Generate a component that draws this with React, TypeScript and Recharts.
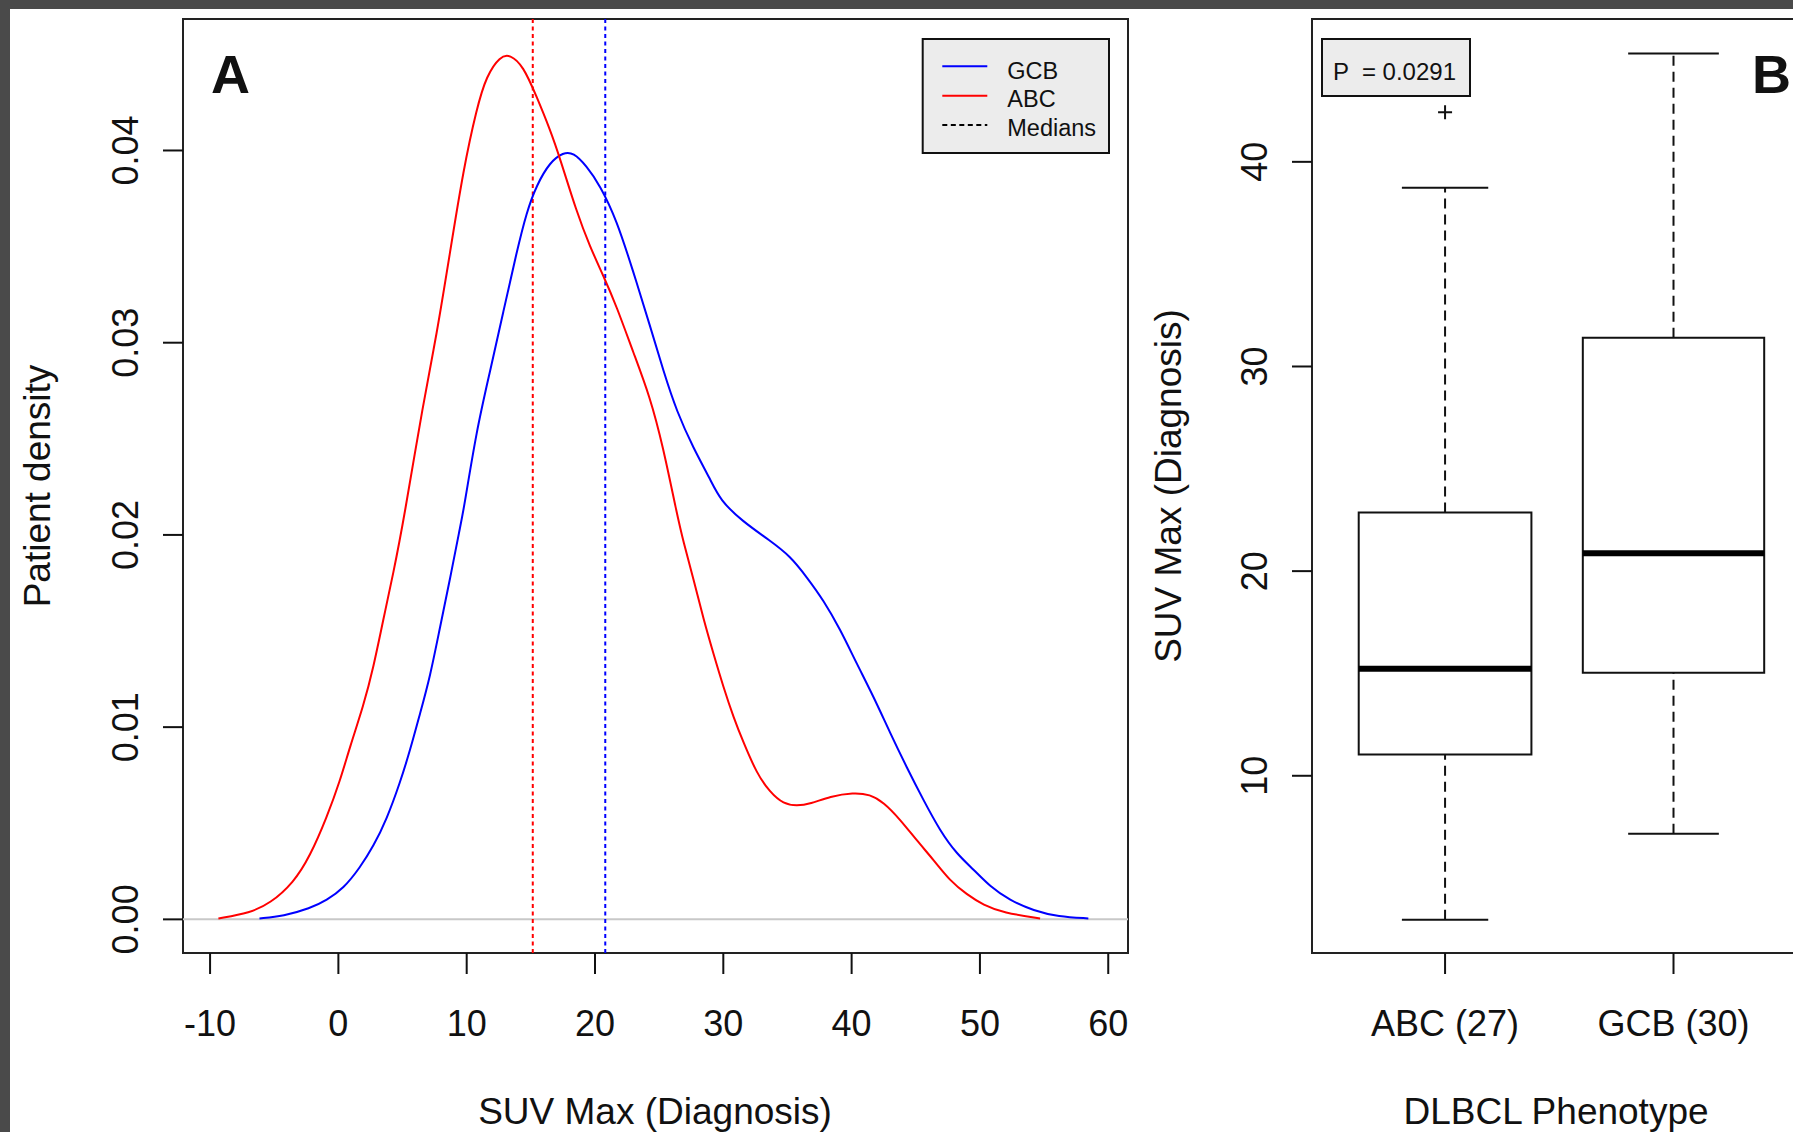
import React from 'react';
import {
  ComposedChart,
  Line,
  ReferenceArea,
  ReferenceLine,
  Scatter,
  XAxis,
  YAxis,
} from 'recharts';

const FONT = "'Liberation Sans', Arial, Helvetica, sans-serif";
const INK = '#111';
const RED = '#ff0000';
const BLUE = '#0000ff';

// Panel A: density of SUV max at diagnosis
const abcX = [
  -9.35, -6.88, -5.32, -3.5, -2.2, -0.91, 0.13, 0.91, 1.95, 2.73, 3.5, 4.28, 5.1, 6.62, 7.66, 8.7,
  9.74, 10.78, 11.55, 12.6, 13.37, 14.41, 15.45, 16.49, 17.27, 18.57, 19.6, 20.64, 21.68, 22.98,
  24.28, 25.3, 26.35, 26.9, 27.68, 28.46, 29.24, 30.0, 30.8, 31.57, 32.6, 33.65, 34.69, 35.73,
  36.77, 38.33, 40.14, 41.44, 42.48, 43.78, 45.08, 46.38, 47.67, 48.97, 50.27, 51.83, 54.69,
];
const abcY = [
  0.00005, 0.00034, 0.00083, 0.0019, 0.0033, 0.0053, 0.0072, 0.009, 0.0111, 0.0131, 0.0156, 0.018,
  0.0208, 0.0269, 0.0304, 0.0347, 0.039, 0.0422, 0.0439, 0.0449, 0.045, 0.0444, 0.0428, 0.0411,
  0.0396, 0.0368, 0.035, 0.0335, 0.0319, 0.0295, 0.0272, 0.0246, 0.0212, 0.0196, 0.0177, 0.0156,
  0.0138, 0.0121, 0.0105, 0.0092, 0.0076, 0.0066, 0.006, 0.0059, 0.006, 0.0064, 0.0066, 0.0065,
  0.0061, 0.0052, 0.0041, 0.0031, 0.002, 0.0013, 0.00074, 0.00034, 0.00005,
];
const gcbX = [
  -6.15, -4.28, -2.2, -0.91, 0.39, 1.69, 2.73, 3.76, 4.8, 5.59, 6.36, 7.14, 7.92, 8.7, 9.48, 9.74,
  10.78, 11.82, 12.85, 13.89, 14.67, 15.45, 16.49, 17.53, 18.31, 19.34, 20.38, 21.68, 22.98, 24.28,
  25.34, 26.38, 27.68, 28.98, 29.76, 31.5, 33.65, 35.21, 36.51, 37.81, 39.1, 40.4, 41.7, 43.0, 44.3,
  45.6, 46.9, 48.2, 49.5, 50.8, 52.3, 54.2, 56.1, 58.45,
];
const gcbY = [
  0.00005, 0.00017, 0.00057, 0.001, 0.0016, 0.0027, 0.0038, 0.0052, 0.0071, 0.0088, 0.0107, 0.0126,
  0.0152, 0.0177, 0.0204, 0.0212, 0.0255, 0.0285, 0.0316, 0.0347, 0.0368, 0.0382, 0.0394, 0.0399,
  0.0399, 0.0392, 0.0382, 0.0364, 0.0337, 0.0309, 0.0285, 0.0264, 0.0245, 0.0229, 0.0218, 0.0207,
  0.0197, 0.0189, 0.0178, 0.0166, 0.0151, 0.0133, 0.0116, 0.0097, 0.0079, 0.0062, 0.0046, 0.0034,
  0.0026, 0.0017, 0.001, 0.00045, 0.00014, 0.00005,
];
const medianAbc = 15.15;
const medianGcb = 20.8;
const densityXTicks = [-10, 0, 10, 20, 30, 40, 50, 60];
const densityYTicks = [0, 0.01, 0.02, 0.03, 0.04];
const densityXDomain: [number, number] = [-12.11, 61.54];
const densityYDomain: [number, number] = [-0.00175, 0.04684];
const legendLabels = ['GCB', 'ABC', 'Medians'];
const legendColors = [BLUE, RED, '#000'];

// Panel B: boxplots per phenotype
const groups = ['ABC (27)', 'GCB (30)'];
const groupPos = [1, 2];
const boxWidth = [0.756, 0.794];
const whiskerLow = [2.97, 7.17];
const q1 = [11.04, 15.03];
const median = [15.23, 20.87];
const q3 = [22.86, 31.4];
const whiskerHigh = [38.73, 45.3];
const outlierGroup = [1];
const outlierValue = [42.42];
const boxYTicks = [10, 20, 30, 40];
const boxXDomain: [number, number] = [0.4175, 2.58];
const boxYDomain: [number, number] = [1.34, 46.98];
const pLabel = 'P  = 0.0291';

const abcRows = abcX.map((x, i) => ({ x, y: abcY[i] }));
const gcbRows = gcbX.map((x, i) => ({ x, y: gcbY[i] }));
const outlierRows = outlierGroup.map((g, i) => ({ x: g, y: outlierValue[i] }));

const tickLineStyle = { stroke: INK, strokeWidth: 2 };

function XTick({ x, y, payload, names }: any) {
  const v = payload?.value;
  const text = names ? names[groupPos.indexOf(v)] : String(v);
  return (
    <text x={x} y={y + 62} textAnchor="middle" fontFamily={FONT} fontSize={36} fill={INK}>
      {text}
    </text>
  );
}

function YTick({ x, y, payload, digits }: any) {
  const v = payload?.value as number;
  const text = digits ? v.toFixed(digits) : String(v);
  return (
    <text
      x={x}
      y={y}
      transform={`rotate(-90 ${x} ${y})`}
      textAnchor="middle"
      fontFamily={FONT}
      fontSize={36}
      fill={INK}
    >
      {text}
    </text>
  );
}

function Cross({ cx, cy }: any) {
  if (cx == null || cy == null) return null;
  const h = 7;
  return (
    <path
      d={`M${cx - h},${cy}H${cx + h}M${cx},${cy - h}V${cy + h}`}
      stroke={INK}
      strokeWidth={2}
      fill="none"
    />
  );
}

function DensityPanel() {
  return (
    <ComposedChart width={1160} height={1132} margin={{ top: 19, right: 32, bottom: 79, left: 83 }}>
      <XAxis
        type="number"
        dataKey="x"
        domain={densityXDomain}
        ticks={densityXTicks}
        allowDataOverflow
        interval={0}
        axisLine={false}
        tickLine={tickLineStyle}
        tickSize={21}
        tickMargin={0}
        height={100}
        tick={<XTick />}
      />
      <YAxis
        type="number"
        domain={densityYDomain}
        ticks={densityYTicks}
        allowDataOverflow
        interval={0}
        axisLine={false}
        tickLine={tickLineStyle}
        tickSize={20}
        tickMargin={25}
        width={100}
        tick={<YTick digits={2} />}
      />
      <ReferenceLine y={0} stroke="#c8c8c8" strokeWidth={2} />
      <ReferenceLine x={medianAbc} stroke={RED} strokeWidth={2} strokeDasharray="4 3.5" />
      <ReferenceLine x={medianGcb} stroke={BLUE} strokeWidth={2} strokeDasharray="4 3.5" />
      <Line
        data={gcbRows}
        dataKey="y"
        type="basis"
        stroke={BLUE}
        strokeWidth={2}
        dot={false}
        activeDot={false}
        isAnimationActive={false}
      />
      <Line
        data={abcRows}
        dataKey="y"
        type="basis"
        stroke={RED}
        strokeWidth={2}
        dot={false}
        activeDot={false}
        isAnimationActive={false}
      />
      <ReferenceArea
        x1={densityXDomain[0]}
        x2={densityXDomain[1]}
        y1={densityYDomain[0]}
        y2={densityYDomain[1]}
        fill="none"
        stroke="#222"
        strokeWidth={2}
        ifOverflow="visible"
      />
    </ComposedChart>
  );
}

function BoxPanel() {
  return (
    <ComposedChart width={670} height={1132} margin={{ top: 19, right: 14, bottom: 79, left: 62 }}>
      <XAxis
        type="number"
        dataKey="x"
        domain={boxXDomain}
        ticks={groupPos}
        allowDataOverflow
        interval={0}
        axisLine={false}
        tickLine={tickLineStyle}
        tickSize={21}
        tickMargin={0}
        height={100}
        tick={<XTick names={groups} />}
      />
      <YAxis
        type="number"
        dataKey="y"
        domain={boxYDomain}
        ticks={boxYTicks}
        allowDataOverflow
        interval={0}
        axisLine={false}
        tickLine={tickLineStyle}
        tickSize={20}
        tickMargin={25}
        width={100}
        tick={<YTick />}
      />
      {groupPos.map((p, i) => (
        <ReferenceLine
          key={`wl${i}`}
          segment={[{ x: p, y: whiskerLow[i] }, { x: p, y: q1[i] }]}
          stroke={INK}
          strokeWidth={2}
          strokeDasharray="10 6"
        />
      ))}
      {groupPos.map((p, i) => (
        <ReferenceLine
          key={`wh${i}`}
          segment={[{ x: p, y: q3[i] }, { x: p, y: whiskerHigh[i] }]}
          stroke={INK}
          strokeWidth={2}
          strokeDasharray="10 6"
        />
      ))}
      {groupPos.map((p, i) => (
        <ReferenceArea
          key={`box${i}`}
          x1={p - boxWidth[i] / 2}
          x2={p + boxWidth[i] / 2}
          y1={q1[i]}
          y2={q3[i]}
          fill="#fff"
          fillOpacity={1}
          stroke={INK}
          strokeWidth={2}
        />
      ))}
      {groupPos.map((p, i) => (
        <ReferenceLine
          key={`med${i}`}
          segment={[{ x: p - boxWidth[i] / 2, y: median[i] }, { x: p + boxWidth[i] / 2, y: median[i] }]}
          stroke="#000"
          strokeWidth={6}
        />
      ))}
      {groupPos.map((p, i) => (
        <ReferenceLine
          key={`sl${i}`}
          segment={[{ x: p - boxWidth[i] / 4, y: whiskerLow[i] }, { x: p + boxWidth[i] / 4, y: whiskerLow[i] }]}
          stroke={INK}
          strokeWidth={2}
        />
      ))}
      {groupPos.map((p, i) => (
        <ReferenceLine
          key={`sh${i}`}
          segment={[{ x: p - boxWidth[i] / 4, y: whiskerHigh[i] }, { x: p + boxWidth[i] / 4, y: whiskerHigh[i] }]}
          stroke={INK}
          strokeWidth={2}
        />
      ))}
      <Scatter data={outlierRows} dataKey="y" shape={<Cross />} isAnimationActive={false} />
      <ReferenceArea
        x1={boxXDomain[0]}
        x2={boxXDomain[1]}
        y1={boxYDomain[0]}
        y2={boxYDomain[1]}
        fill="none"
        stroke="#222"
        strokeWidth={2}
        ifOverflow="visible"
      />
    </ComposedChart>
  );
}

function Annotations() {
  const text = { fontFamily: FONT, fill: INK } as const;
  return (
    <svg
      width={1793}
      height={1132}
      style={{ position: 'absolute', left: 0, top: 0, pointerEvents: 'none' }}
    >
      <text x={211} y={93} fontSize={54} fontWeight="bold" {...text}>A</text>
      <text x={1752} y={93} fontSize={54} fontWeight="bold" {...text}>B</text>

      <text x={50} y={486} fontSize={37} textAnchor="middle" transform="rotate(-90 50 486)" {...text}>
        Patient density
      </text>
      <text x={655} y={1124} fontSize={37} textAnchor="middle" {...text}>SUV Max (Diagnosis)</text>
      <text x={1181} y={486} fontSize={37} textAnchor="middle" transform="rotate(-90 1181 486)" {...text}>
        SUV Max (Diagnosis)
      </text>
      <text x={1556} y={1124} fontSize={37} textAnchor="middle" {...text}>DLBCL Phenotype</text>

      <rect x={922.7} y={39} width={186.3} height={114} fill="#ececec" stroke={INK} strokeWidth={2} />
      {legendLabels.map((label, i) => (
        <g key={label}>
          <line
            x1={942.3}
            x2={987.3}
            y1={66.3 + i * 29.4}
            y2={66.3 + i * 29.4}
            stroke={legendColors[i]}
            strokeWidth={2}
            strokeDasharray={label === 'Medians' ? '5 3.5' : undefined}
          />
          <text x={1007.3} y={79 + i * 28.4} fontSize={23.5} {...text}>{label}</text>
        </g>
      ))}

      <rect x={1322} y={39} width={148} height={57} fill="#ececec" stroke={INK} strokeWidth={2} />
      <text x={1333} y={80} fontSize={24} style={{ whiteSpace: 'pre' }} {...text}>{pLabel}</text>
    </svg>
  );
}

export default function App() {
  return (
    <div
      style={{
        position: 'absolute',
        left: 0,
        top: 0,
        width: 1793,
        height: 1132,
        overflow: 'hidden',
        background: '#4a4a4a',
      }}
    >
      <div style={{ position: 'absolute', left: 10, top: 9, right: 0, bottom: 0, background: '#fff' }} />
      <div style={{ position: 'absolute', left: 0, top: 0 }}>
        <DensityPanel />
      </div>
      <div style={{ position: 'absolute', left: 1150, top: 0 }}>
        <BoxPanel />
      </div>
      <Annotations />
    </div>
  );
}
